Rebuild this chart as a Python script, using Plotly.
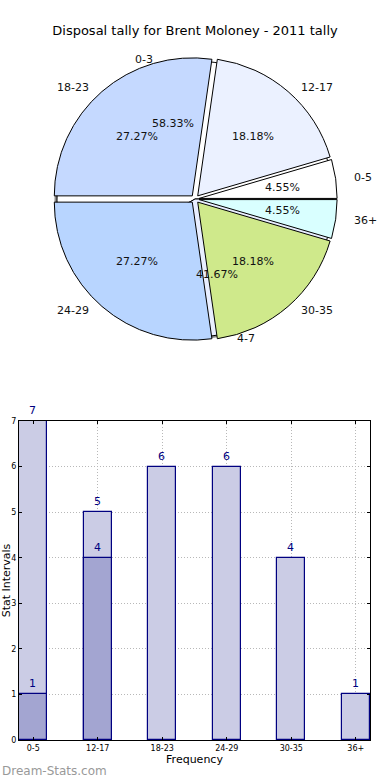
import math
import plotly.graph_objects as go

# ---------------- data ----------------
title_text = "Disposal tally for Brent Moloney - 2011 tally"

outer_labels = ["0-3", "4-7"]
outer_values = [7, 5]
outer_colors = ["#ffffff", "#e8eeff"]

inner_labels = ["0-5", "12-17", "18-23", "24-29", "30-35", "36+"]
inner_values = [1, 4, 6, 6, 4, 1]
inner_colors = ["#ffffff", "#ebf1ff", "#c5d9ff", "#b8d5ff", "#cfe98b", "#d9ffff"]

bar_categories = ["0-5", "12-17", "18-23", "24-29", "30-35", "36+"]
bar_light = [7, 5, 6, 6, 4, 1]
bar_dark = [1, 4, None, None, None, None]

y_ticks = [0, 1, 2, 3, 4, 5, 6, 7]

# ---------------- layout constants ----------------
W, H = 390, 780
CX, CY, R = 195, 199, 138      # pie centre / radius in px
RX_T, RY_T = 140, 131          # text placement radii (reference pie is slightly oval)
PULL = 0.03
FONT = "DejaVu Sans"


def px_dom(cx, cy, r):
    return dict(x=[(cx - r) / W, (cx + r) / W], y=[1 - (cy + r) / H, 1 - (cy - r) / H])


def first_slice_rotation(values):
    # plotly (counterclockwise): first slice ends at `rotation` (clockwise from 12 o'clock);
    # matplotlib: first slice starts at 3 o'clock going counterclockwise
    return 90 - 360.0 * values[0] / sum(values)


fig = go.Figure()

# shadow of the outer pie
fig.add_trace(go.Pie(
    labels=outer_labels, values=outer_values, sort=False,
    direction="counterclockwise", rotation=first_slice_rotation(outer_values),
    marker=dict(colors=["rgba(0,0,0,0.45)"] * len(outer_values), line=dict(width=0)),
    textinfo="none", hoverinfo="skip", showlegend=False,
    domain=px_dom(CX - 2.5, CY + 2.5, R),
))

# outer pie (0-3 / 4-7)
fig.add_trace(go.Pie(
    labels=outer_labels, values=outer_values, sort=False,
    direction="counterclockwise", rotation=first_slice_rotation(outer_values),
    marker=dict(colors=outer_colors, line=dict(color="#000000", width=1)),
    textinfo="none", hoverinfo="label+percent", showlegend=False,
    domain=px_dom(CX, CY, R),
))

# inner pie (exploded)
fig.add_trace(go.Pie(
    labels=inner_labels, values=inner_values, sort=False,
    direction="counterclockwise", rotation=first_slice_rotation(inner_values),
    pull=[PULL] * len(inner_values),
    marker=dict(colors=inner_colors, line=dict(color="#000000", width=1)),
    textinfo="none", hoverinfo="label+percent", showlegend=False,
    domain=px_dom(CX, CY, R * (1 + PULL)),
))

# pie labels (matplotlib style: labels at 1.1 r, percentages at 0.6 r)
annotations = []


def add_pie_text(labels, values, explode):
    total = float(sum(values))
    start = 0.0
    for lab, v in zip(labels, values):
        frac = v / total
        mid = math.radians((start + frac / 2) * 360)
        ex = explode
        lx = CX + (1.1 + ex) * RX_T * math.cos(mid)
        ly = CY - (1.1 + ex) * RY_T * math.sin(mid)
        annotations.append(dict(
            x=lx / W, y=1 - ly / H, xref="paper", yref="paper",
            text=lab, showarrow=False,
            xanchor="left" if math.cos(mid) > 0 else "right", yanchor="middle",
            font=dict(family=FONT, size=11, color="#111111"),
        ))
        pxp = CX + (0.6 + ex) * RX_T * math.cos(mid)
        pyp = CY - (0.6 + ex) * RY_T * math.sin(mid)
        annotations.append(dict(
            x=pxp / W, y=1 - pyp / H, xref="paper", yref="paper",
            text="%1.2f%%" % (100 * frac), showarrow=False,
            xanchor="center", yanchor="middle",
            font=dict(family=FONT, size=11, color="#111111"),
        ))
        start += frac


add_pie_text(outer_labels, outer_values, 0.0)
add_pie_text(inner_labels, inner_values, PULL)

# ---------------- bar chart ----------------
fig.add_trace(go.Bar(
    x=bar_categories, y=bar_light, width=0.44,
    marker=dict(color="#cbcce5", line=dict(color="#000080", width=1.2)),
    text=[str(v) for v in bar_light], textposition="outside",
    textfont=dict(family=FONT, size=11, color="#000080"),
    cliponaxis=False, showlegend=False, xaxis="x", yaxis="y",
))
fig.add_trace(go.Bar(
    x=bar_categories, y=bar_dark, width=0.44,
    marker=dict(color="#a3a5d1", line=dict(color="#000080", width=1.2)),
    text=["" if v is None else str(v) for v in bar_dark], textposition="outside",
    textfont=dict(family=FONT, size=11, color="#000080"),
    cliponaxis=False, showlegend=False, xaxis="x", yaxis="y",
))

annotations.append(dict(
    x=0, y=1 - 771 / H, xref="paper", yref="paper", text="Dream-Stats.com",
    showarrow=False, xanchor="left", yanchor="middle",
    font=dict(family=FONT, size=12, color="#999999"),
))

axis_common = dict(
    showline=True, linecolor="#000000", linewidth=1, mirror="ticks",
    ticks="inside", ticklen=3, tickcolor="#000000",
    showgrid=True, gridcolor="#b8b8b8", griddash="1px,2px", gridwidth=1,
    zeroline=False, automargin=False,
    tickfont=dict(family=FONT, size=8, color="#000000"),
)

fig.update_layout(
    width=W, height=H,
    margin=dict(l=0, r=0, t=0, b=0),
    paper_bgcolor="white", plot_bgcolor="white",
    barmode="overlay", bargap=0,
    title=dict(text=title_text, x=0.5, xanchor="center", y=1 - 30 / H, yanchor="middle",
               yref="container", font=dict(family=FONT, size=13, color="#000000")),
    xaxis=dict(domain=[19 / W, 370 / W], range=[-0.22, 5.22], type="category",
               title=dict(text="Frequency", standoff=2,
                          font=dict(family=FONT, size=11, color="#000000")),
               **axis_common),
    yaxis=dict(domain=[1 - 740 / H, 1 - 421 / H], range=[0, 7], tickvals=y_ticks,
               title=dict(text="Stat Intervals", standoff=0,
                          font=dict(family=FONT, size=11, color="#000000")),
               **axis_common),
    annotations=annotations,
    font=dict(family=FONT),
)

fig.write_html("out.html", config={"displayModeBar": False},
               post_script="document.body.style.margin='0';")
